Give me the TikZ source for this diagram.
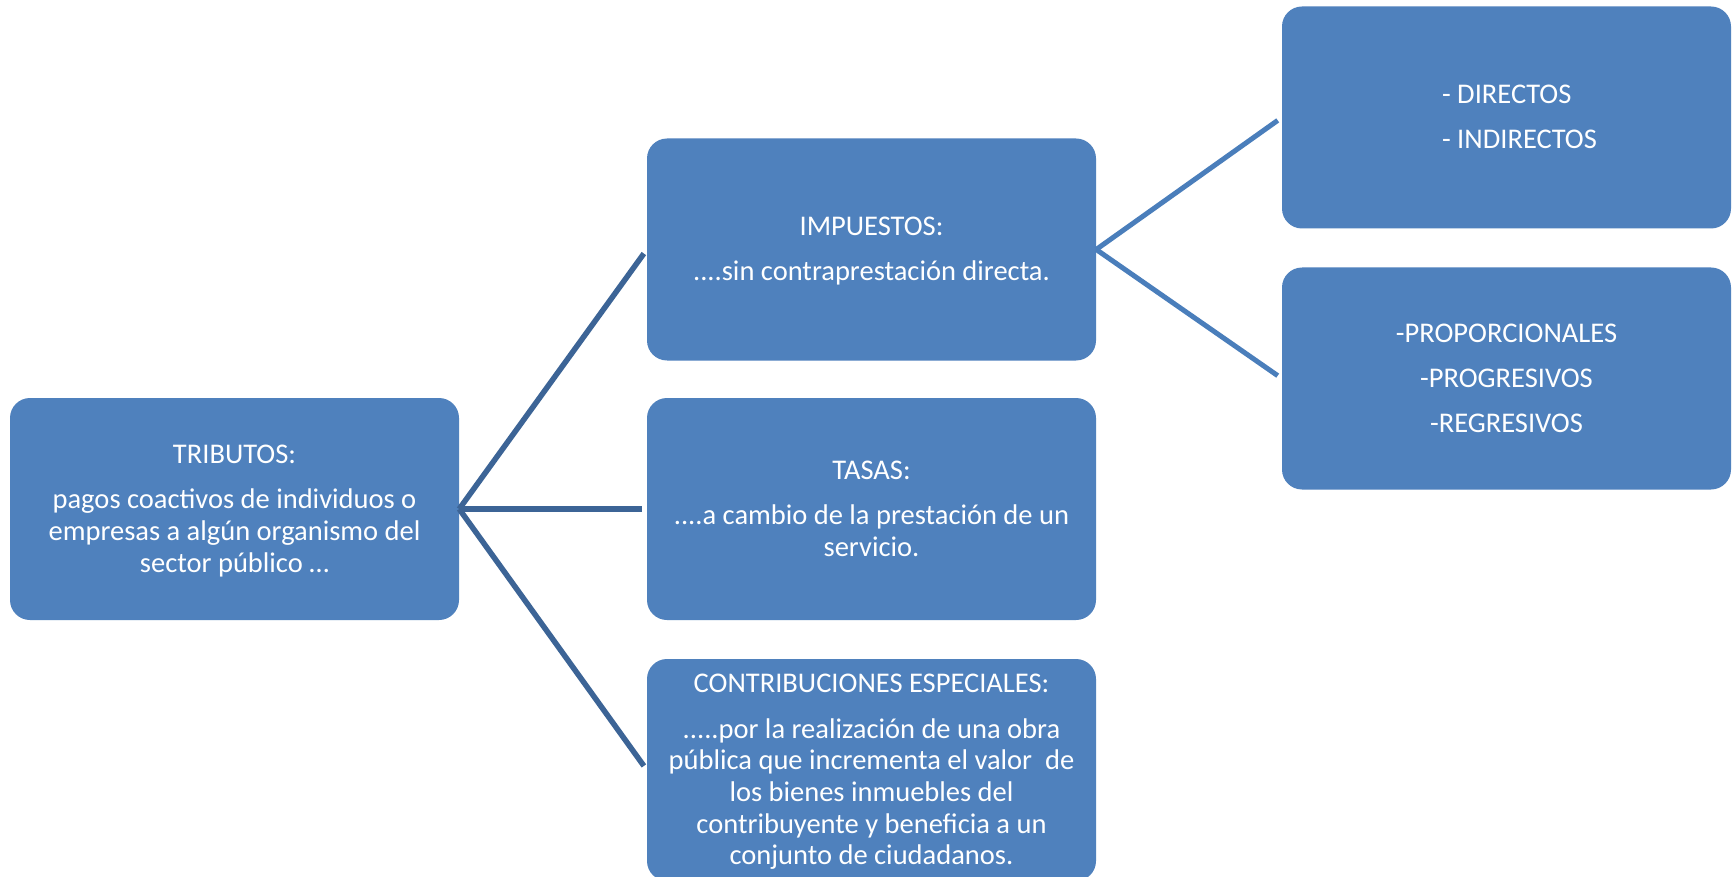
\documentclass[tikz,border=0pt]{standalone}
\usepackage{fontspec}
\setmainfont{Carlito}
\definecolor{boxblue}{HTML}{4F81BD}
\definecolor{leftline}{HTML}{3C6496}
\definecolor{rightline}{HTML}{4A7EBB}
\newcommand\ls{\rule[-6.95pt]{0pt}{31.7pt}}
\begin{document}
\begin{tikzpicture}[x=1pt,y=-1pt,
  box/.style={fill=boxblue, draw=none, rounded corners=20pt,
    minimum width=449pt, minimum height=222pt, inner sep=0pt,
    text=white, align=center, font=\fontsize{28.5}{31.7}\selectfont},
  leftcon/.style={draw=leftline, line width=5.5pt, shorten >=5pt},
  rightcon/.style={draw=rightline, line width=5pt, shorten >=5pt}]
\useasboundingbox[fill=white] (0,0) rectangle (1735,877);

\node[box] (trib) at (234.5,509) {\ls TRIBUTOS:\\[13.5pt]
  \ls pagos coactivos de individuos o\\
  \ls empresas a algún organismo del\\
  \ls sector público …};
\node[box] (imp) at (871.5,249.5) {\ls IMPUESTOS:\\[13.5pt]
  \ls ....sin contraprestación directa.};
\node[box] (tas) at (871.5,509) {\ls TASAS:\\[13.5pt]
  \ls ....a cambio de la prestación de un\\
  \ls servicio.};
\node[box] (con) at (871.5,770) {\ls CONTRIBUCIONES ESPECIALES:\\[13.5pt]
  \ls .....por la realización de una obra\\
  \ls pública que incrementa el valor~ de\\
  \ls los bienes inmuebles del\\
  \ls contribuyente y beneficia a un\\
  \ls conjunto de ciudadanos.};
\node[box, align=left] (dir) at (1506.5,117.5) {\hspace*{26pt}\ls - DIRECTOS\\[13.5pt]
  \hspace*{26pt}\ls - INDIRECTOS};
\node[box] (pro) at (1506.5,378.5) {\ls -PROPORCIONALES\\[13.5pt]
  \ls -PROGRESIVOS\\[13.5pt]
  \ls -REGRESIVOS};

\draw[leftcon] (trib.east) -- (imp.west);
\draw[leftcon] (trib.east) -- (tas.west);
\draw[leftcon] (trib.east) -- (con.west);
\draw[rightcon] (imp.east) -- (dir.west);
\draw[rightcon] (imp.east) -- (pro.west);
\end{tikzpicture}
\end{document}
